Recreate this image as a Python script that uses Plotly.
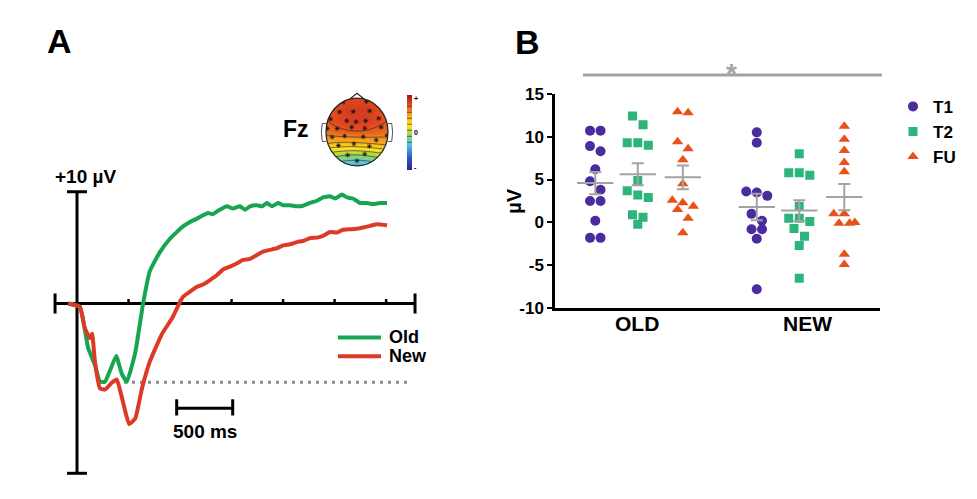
import numpy as np
import plotly.graph_objects as go

W, H = 977, 499
FONT = "Liberation Sans, Arial, sans-serif"

# ---------------- Panel A : ERP at Fz (time in ms, amplitude in µV) ----------------
old_t = [-80, 25, 100, 160, 205, 250, 295, 350, 400, 445, 520, 590, 650, 740, 830, 946,
         1009, 1071, 1125, 1170, 1214, 1259, 1339, 1393, 1455, 1500, 1545, 1607, 1652, 1696,
         1741, 1795, 1839, 1902, 1964, 2018, 2080, 2143, 2196, 2259, 2304, 2366, 2411, 2464,
         2527, 2589, 2643, 2705, 2768]
old_v = [0.0, -0.3, -4.0, -5.5, -7.0, -7.0, -6.0, -4.7, -6.3, -7.0, -4.4, 0.0, 2.9, 4.6, 5.8, 6.9,
         7.3, 7.6, 7.9, 8.1, 8.0, 8.3, 8.7, 8.5, 8.7, 8.4, 8.7, 8.8, 8.7, 9.0,
         8.7, 9.0, 8.8, 8.8, 8.7, 8.75, 9.0, 9.2, 9.5, 9.6, 9.4, 9.75, 9.5, 9.4,
         9.0, 9.0, 8.9, 9.0, 9.0]
new_t = [-80, 25, 70, 115, 135, 160, 205, 250, 310, 355, 410, 465, 520, 580, 650, 760, 850,
         946, 1009, 1071, 1125, 1188, 1250, 1304, 1366, 1429, 1482, 1545, 1607, 1661, 1723,
         1786, 1839, 1902, 1964, 2018, 2080, 2143, 2196, 2259, 2321, 2375, 2438, 2500, 2554,
         2616, 2679, 2768]
new_v = [0.0, -0.3, -2.2, -3.1, -2.7, -5.2, -7.6, -7.7, -7.1, -6.8, -8.8, -10.8, -10.3, -7.6,
         -5.2, -2.7, -1.3,
         0.6, 1.07, 1.5, 1.7, 2.1, 2.55, 3.05, 3.3, 3.6, 3.9, 4.0, 4.35, 4.65, 4.8,
         4.95, 5.2, 5.3, 5.5, 5.6, 5.85, 5.9, 6.05, 6.4, 6.35, 6.6, 6.65, 6.7, 6.8,
         6.95, 7.1, 7.0]
time_ticks_ms = [460, 920, 1380, 1840, 2300, 2760]
axis_time_ms = [-196, 3018]
axis_amp_uv = [-15.2, 10]
scale_bar_ms = [890, 1390]
scale_bar_uv = -9.375
peak_ref_uv = -7.05
peak_ref_ms = [348, 2955]

# ---------------- Topographic map (Fz) ----------------
topo_grid = [-1, -0.667, -0.333, 0, 0.333, 0.667, 1]
topo_z = [
    [-0.32, -0.36, -0.40, -0.42, -0.40, -0.35, -0.30],
    [0.02, -0.03, -0.07, -0.08, -0.05, 0.00, 0.05],
    [0.40, 0.37, 0.36, 0.37, 0.39, 0.42, 0.45],
    [0.62, 0.66, 0.69, 0.70, 0.69, 0.66, 0.63],
    [0.70, 0.76, 0.80, 0.81, 0.80, 0.76, 0.70],
    [0.71, 0.77, 0.81, 0.82, 0.81, 0.77, 0.71],
    [0.70, 0.74, 0.76, 0.77, 0.76, 0.74, 0.70],
]
elec_x = [-0.45, 0.3, -0.56, -0.12, 0.41, -0.85, -0.33, -0.03, 0.28, 0.7, -0.96, -0.64, -0.17,
          0.25, 0.78, -0.8, -0.4, 0.2, 0.62, 0.97, -0.6, -0.1, 0.4, -0.3, 0.25, 0.0]
elec_y = [0.88, 0.9, 0.59, 0.6, 0.62, 0.38, 0.33, 0.3, 0.33, 0.4, 0.1, 0.1, 0.14,
          0.11, 0.14, -0.15, -0.12, -0.14, -0.24, -0.1, -0.4, -0.35, -0.42, -0.68, -0.65, -0.85]

# ---------------- Panel B : individual amplitudes (µV) ----------------
conditions = ["OLD", "NEW"]
sessions = ["T1", "T2", "FU"]
old_T1 = [10.7, 10.7, 8.9, 8.3, 6.2, 4.8, 3.8, 2.5, 2.5, 0.2, -1.8, -1.8]
old_T2 = [12.4, 11.4, 9.3, 9.0, 9.3, 4.9, 3.7, 3.2, 2.9, 0.9, 0.6, -0.2]
old_FU = [12.8, 12.9, 9.4, 8.6, 7.3, 4.5, 2.6, 2.3, 1.9, 1.5, 0.5, -1.2]
new_T1 = [10.5, 9.3, 3.6, 3.5, 3.1, 1.0, 0.2, -0.8, -0.8, -1.9, -7.8]
new_T2 = [8.0, 5.8, 5.8, 5.5, 1.9, 0.5, 0.5, 0.1, -0.7, -1.6, -2.7, -6.5]
new_FU = [11.2, 9.7, 8.4, 7.0, 5.9, 1.0, 1.0, -0.1, -0.1, 0.0, -3.7, -4.9]
y_ticks = [-10, -5, 0, 5, 10, 15]
y_tick_labels = ["-10", "-5", "0", "5", "10", "15"]

data_B = {
    ("OLD", "T1"): old_T1, ("OLD", "T2"): old_T2, ("OLD", "FU"): old_FU,
    ("NEW", "T1"): new_T1, ("NEW", "T2"): new_T2, ("NEW", "FU"): new_FU,
}

colors = {"T1": "#4b2c9e", "T2": "#2bb57b", "FU": "#e8501c"}
symbols = {"T1": "circle", "T2": "square", "FU": "triangle-up"}
msize = {"T1": 10, "T2": 9, "FU": 10}
group_center = {"OLD": 1.015, "NEW": 1.965}
session_offset = {"T1": -0.26, "T2": -0.01, "FU": 0.255}
GRAY = "#a3a3a3"

# vertical placement helper (page pixel -> layout pixel)
V_OFF, V_SCALE = 6.7, 0.9645


def Y(yp):
    return (yp - V_OFF) / V_SCALE


def PY(yp):
    return 1 - Y(yp) / H


def swarm(values, center, spacing=0.062, thresh=1.05):
    order = sorted(range(len(values)), key=lambda i: -values[i])
    xs = [center] * len(values)
    i = 0
    while i < len(order):
        j = i
        top = values[order[i]]
        while j + 1 < len(order) and top - values[order[j + 1]] <= thresh:
            j += 1
        grp = order[i:j + 1]
        n = len(grp)
        for k, idx in enumerate(grp):
            xs[idx] = center + (k - (n - 1) / 2) * spacing
        i = j + 1
    return xs


fig = go.Figure()

# --- Panel B scatter + mean/SEM
for s in sessions:
    xs, ys = [], []
    for c in conditions:
        v = data_B[(c, s)]
        xs += swarm(v, group_center[c] + session_offset[s])
        ys += v
    fig.add_trace(go.Scatter(
        x=xs, y=ys, mode="markers", name=s, xaxis="x", yaxis="y",
        marker=dict(symbol=symbols[s], size=msize[s], color=colors[s], line=dict(width=0)),
        showlegend=True))
for s in sessions:
    mx, my, me = [], [], []
    for c in conditions:
        v = np.array(data_B[(c, s)])
        mx.append(group_center[c] + session_offset[s])
        my.append(v.mean())
        me.append(v.std(ddof=1) / np.sqrt(len(v)))
    fig.add_trace(go.Scatter(
        x=mx, y=my, mode="markers", xaxis="x", yaxis="y", showlegend=False,
        marker=dict(symbol="line-ew-open", size=26, color=GRAY, line=dict(color=GRAY, width=2)),
        error_y=dict(type="data", array=me, color=GRAY, thickness=2, width=6)))

# --- Panel A waveforms
fig.add_trace(go.Scatter(x=old_t, y=old_v, mode="lines", xaxis="x2", yaxis="y2", showlegend=False,
                         line=dict(color="#17a650", width=4, shape="spline", smoothing=0.4)))
fig.add_trace(go.Scatter(x=new_t, y=new_v, mode="lines", xaxis="x2", yaxis="y2", showlegend=False,
                         line=dict(color="#dc3a27", width=4, shape="spline", smoothing=0.4)))

# --- Topomap
cscale = [[0, "#3b1f8f"], [0.15, "#3050c0"], [0.35, "#55c8e3"], [0.47, "#9ad65a"],
          [0.6, "#ffe020"], [0.75, "#f59a20"], [0.88, "#e2481f"], [1, "#a0141e"]]
fig.add_trace(go.Contour(
    x=topo_grid, y=topo_grid, z=topo_z, xaxis="x3", yaxis="y3", colorscale=cscale,
    zmin=-1, zmax=1, showscale=True,
    contours=dict(coloring="heatmap", start=-0.25, end=0.75, size=0.16),
    line=dict(color="#222", width=0.6, smoothing=1.3),
    colorbar=dict(x=407 / W, xanchor="left", y=PY(131), yanchor="middle",
                  thickness=5, thicknessmode="pixels", len=72 / V_SCALE, lenmode="pixels",
                  xpad=0, ypad=0, outlinewidth=0, ticks="",
                  tickvals=[-0.93, 0, 0.93], ticktext=["-", "0", "+"],
                  tickfont=dict(family=FONT, size=7, color="black", weight="bold"))))
fig.add_trace(go.Scatter(x=elec_x, y=elec_y, mode="markers", xaxis="x3", yaxis="y3", showlegend=False,
                         marker=dict(symbol="asterisk-open", size=4, color="#111",
                                     line=dict(color="#111", width=0.8))))

shapes = []


def seg(x0, y0, x1, y1, color="black", width=3, xref="x2", yref="y2", dash=None, layer="below"):
    d = dict(type="line", x0=x0, y0=y0, x1=x1, y1=y1, xref=xref, yref=yref, layer=layer,
             line=dict(color=color, width=width))
    if dash:
        d["line"]["dash"] = dash
    shapes.append(d)


# Panel A axes
seg(0, axis_amp_uv[0], 0, axis_amp_uv[1])
seg(-89, axis_amp_uv[1], 89, axis_amp_uv[1])
seg(-89, axis_amp_uv[0], 89, axis_amp_uv[0])
seg(axis_time_ms[0], 0, axis_time_ms[1], 0)
seg(axis_time_ms[0], -0.9, axis_time_ms[0], 0.9)
seg(axis_time_ms[1], -0.9, axis_time_ms[1], 0.9)
for tk in time_ticks_ms:
    seg(tk, 0, tk, 0.4, width=2.5)
# scale bar
seg(scale_bar_ms[0], scale_bar_uv, scale_bar_ms[1], scale_bar_uv)
seg(scale_bar_ms[0], scale_bar_uv + 0.8, scale_bar_ms[0], scale_bar_uv - 0.65)
seg(scale_bar_ms[1], scale_bar_uv + 0.8, scale_bar_ms[1], scale_bar_uv - 0.65)
# dotted peak reference
seg(peak_ref_ms[0], peak_ref_uv, peak_ref_ms[1], peak_ref_uv, color="#8c8c8c", width=3, dash="3px,5px")

# Panel A legend lines (paper)
seg(338 / W, PY(336), 381 / W, PY(336), color="#17a650", width=4, xref="paper", yref="paper", layer="above")
seg(338 / W, PY(355), 381 / W, PY(355), color="#dc3a27", width=4, xref="paper", yref="paper", layer="above")

# significance bar (panel B)
seg(583 / W, PY(73), 882 / W, PY(73), color=GRAY, width=3, xref="paper", yref="paper", layer="above")

# Topomap mask + head
k = 0.5523
mask = ("M-1.25,-1.25 H1.25 V1.25 H-1.25 Z "
        f"M1,0 C1,{k} {k},1 0,1 C-{k},1 -1,{k} -1,0 C-1,-{k} -{k},-1 0,-1 C{k},-1 1,-{k} 1,0 Z")
shapes.append(dict(type="path", path=mask, xref="x3", yref="y3", fillcolor="white",
                   fillrule="evenodd", line=dict(width=0), layer="above"))
shapes.append(dict(type="circle", x0=-1, y0=-1, x1=1, y1=1, xref="x3", yref="y3",
                   line=dict(color="#222", width=1.2), layer="above"))
shapes.append(dict(type="path", path="M-0.25,0.96 L0,1.14 L0.25,0.96", xref="x3", yref="y3",
                   line=dict(color="#222", width=1.2), layer="above"))
shapes.append(dict(type="path", path="M-0.99,0.25 L-1.12,0.25 Q-1.18,0 -1.12,-0.28 L-0.99,-0.28",
                   xref="x3", yref="y3", line=dict(color="#555", width=1), layer="above"))
shapes.append(dict(type="path", path="M0.99,0.25 L1.12,0.25 Q1.18,0 1.12,-0.28 L0.99,-0.28",
                   xref="x3", yref="y3", line=dict(color="#555", width=1), layer="above"))

annotations = []


def ann(xp, yp, text, size, color="black", xanchor="center", angle=0, height=None):
    a = dict(x=xp / W, y=PY(yp), xref="paper", yref="paper", text=text,
             showarrow=False, xanchor=xanchor, yanchor="middle", textangle=angle,
             font=dict(family=FONT, size=size, color=color, weight="bold"))
    if height is not None:
        a["height"] = height
        a["borderpad"] = 0
    annotations.append(a)


ann(59, 39, "A", 34)
ann(527, 40, "B", 34)
ann(85, 175, "+10 µV", 19)
ann(296, 127, "Fz", 23)
ann(388, 335, "Old", 18, xanchor="left", height=17)
ann(388, 354, "New", 18, xanchor="left", height=17)
ann(205, 430, "500 ms", 19)
ann(514, 199, "µV", 20, angle=-90)
ann(731, 71, "*", 28, color=GRAY)
ann(637, 322, "OLD", 21)
ann(807, 322, "NEW", 21)

fig.update_layout(
    width=W, height=H, margin=dict(l=0, r=0, t=0, b=0),
    paper_bgcolor="white", plot_bgcolor="rgba(0,0,0,0)",
    font=dict(family=FONT, color="black"),
    shapes=shapes, annotations=annotations,
    legend=dict(x=893 / W, y=1 - 83 / H, xanchor="left", yanchor="top",
                bgcolor="rgba(0,0,0,0)", tracegroupgap=0,
                font=dict(family=FONT, size=17, color="black", weight="bold")),
    xaxis=dict(domain=[555 / W, 880 / W], range=[0.518, 2.43], anchor="y",
               showline=True, linecolor="black", linewidth=2.5, showgrid=False, zeroline=False,
               tickvals=[1, 2], ticktext=conditions, ticks="", showticklabels=False),
    yaxis=dict(domain=[PY(306.7), PY(91.7)], range=[-10, 15], anchor="x",
               showline=True, linecolor="black", linewidth=2.5, showgrid=False, zeroline=False,
               tickvals=y_ticks, ticktext=y_tick_labels, ticks="outside", ticklen=5, tickwidth=2,
               tickcolor="black",
               tickfont=dict(family=FONT, size=17, color="black", weight="bold")),
    xaxis2=dict(domain=[0, 0.5], range=[-687.5, 3674], visible=False, anchor="y2"),
    yaxis2=dict(domain=[0, 1], range=[(302 - (V_OFF + V_SCALE * H)) / 11.2, (302 - V_OFF) / 11.2],
                visible=False, anchor="x2"),
    xaxis3=dict(domain=[317 / W, 397 / W], range=[-1.29, 1.29], visible=False, anchor="y3"),
    yaxis3=dict(domain=[PY(172), PY(88)], range=[-1.235, 1.235], visible=False, anchor="x3"),
)

fig.write_html("out.html")
